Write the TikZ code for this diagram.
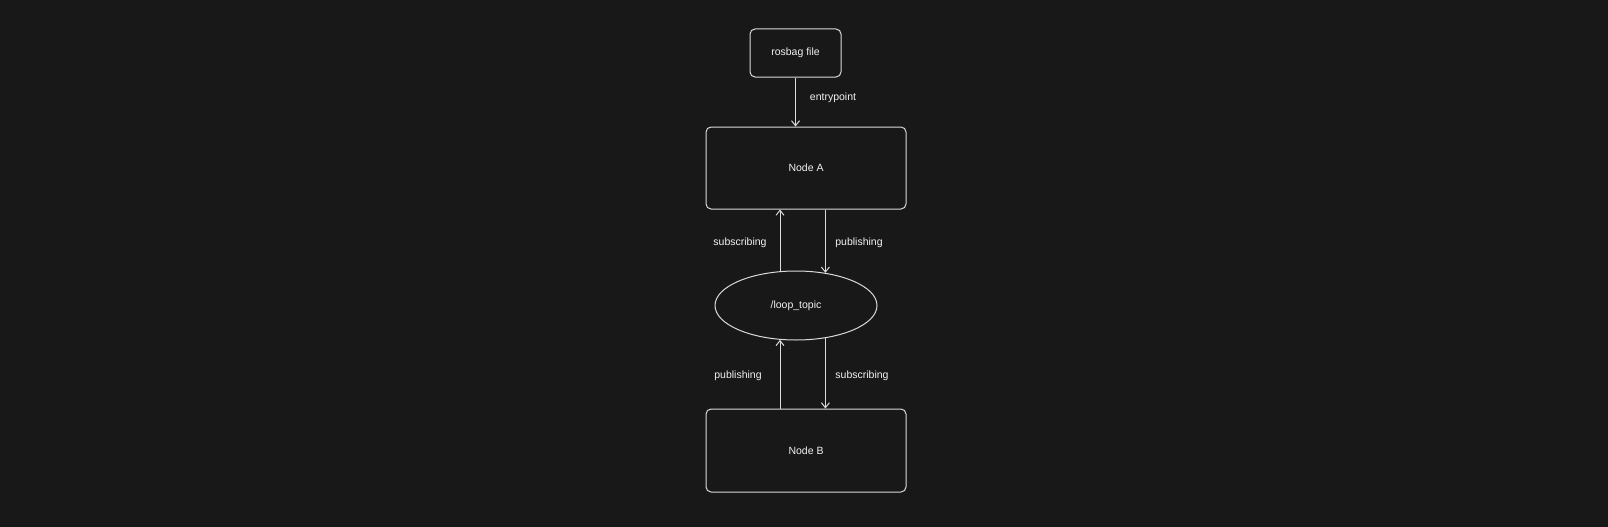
\documentclass[tikz,border=0pt]{standalone}
\usepackage{fontspec}
\setmainfont{Liberation Sans}
\usepackage{tikz}
\usetikzlibrary{
    arrows.meta,
    positioning,
    shapes.geometric
}
\usepackage{xcolor}
\definecolor{bgdark}{HTML}{181818}
\definecolor{inkgray}{HTML}{DADADA}
\definecolor{inkwhite}{HTML}{F2F2F2}

\begin{document}
\begin{tikzpicture}[
        x=1pt, y=-1pt,
        >={Straight Barb[length=5pt,width=8pt]},
        every node/.style={font=\fontsize{10.5}{12}\selectfont, text=inkwhite},
        box/.style={
            draw=inkgray,
            line width=1pt,
            rounded corners=5pt,
            fill=bgdark
        },
        topic/.style={
            ellipse,
            draw=inkgray,
            line width=1pt,
            minimum width=162pt,
            minimum height=69pt,
            inner sep=0pt
        },
        link/.style={->, draw=inkgray, line width=1pt}
    ]
        \fill[bgdark] (0,0) rectangle (1608,527);
        \useasboundingbox (0,0) rectangle (1608,527);

        \node[box, minimum width=91pt, minimum height=48pt] (bag) at (795.5,53) {rosbag file};
        \node[box, minimum width=200pt, minimum height=82pt] (A) at (806,168) {Node A};
        \node[topic] (loop) at (796,305.5) {/loop\_topic};
        \node[box, minimum width=200pt, minimum height=83pt] (B) at (806,450.5) {Node B};

        \draw[link] (bag) -- (bag |- A.north);
        \draw[link] (loop.115) -- (loop.115 |- A.south);
        \draw[link] (A.south -| loop.48) -- (loop.48);
        \draw[link] (B.north -| loop.-115) -- (loop.-115);
        \draw[link] (loop.-48) -- (loop.-48 |- B.north);

        \node (lentry) at (833,98) {entrypoint};
        \node (lsubA) at (740,243) {subscribing};
        \node (lpubA) at (859,243) {publishing};
        \node (lpubB) at (738,376) {publishing};
        \node (lsubB) at (862,376) {subscribing};
    \end{tikzpicture}
\end{document}
